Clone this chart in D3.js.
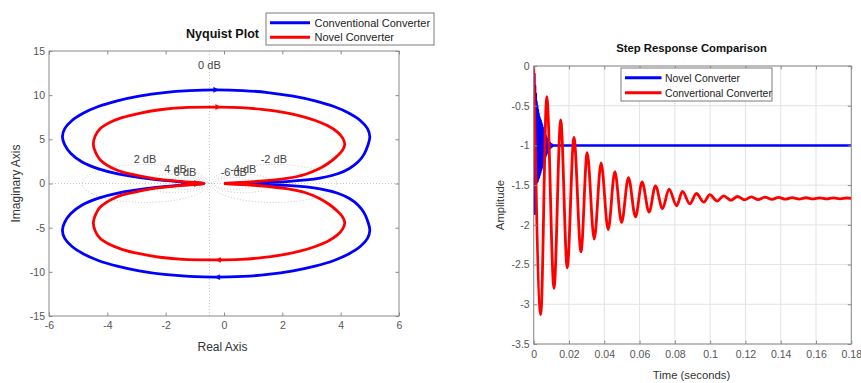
<!DOCTYPE html>
<html><head><meta charset="utf-8">
<script src="https://cdn.jsdelivr.net/npm/d3@7"></script>
<style>
body{margin:0;background:#fff;}
text{font-family:"Liberation Sans",Arial,Helvetica,sans-serif;}
</style></head>
<body><svg id="chart" width="861" height="383" xmlns="http://www.w3.org/2000/svg"></svg>
<script>
// ---------------- DATA ----------------
const nyqXTicks = [-6, -4, -2, 0, 2, 4, 6];
const nyqYTicks = [-15, -10, -5, 0, 5, 10, 15];
const mCircleDb = [2, 4, 6, -2, -4, -6];
const nyqLegend = ["Conventional Converter", "Novel Converter"];
// Upper half (positive frequencies) [Re, Im]; lower half is the complex conjugate
const conventionalNyqUpper = [
  [0.0, 0.0], [0.8, 0.08], [2.15, 0.22], [3.29, 0.6], [3.9, 1.1], [4.3, 1.7],
  [4.6, 2.45], [4.8, 3.3], [4.93, 4.3], [5.0, 5.3], [4.92, 6.22], [4.68, 7.11],
  [4.29, 7.95], [3.77, 8.71], [3.12, 9.36], [2.37, 9.89], [1.5, 10.3],
  [0.65, 10.52], [-0.27, 10.6], [-1.19, 10.52], [-2.05, 10.3], [-2.91, 9.89],
  [-3.66, 9.36], [-4.31, 8.71], [-4.83, 7.95], [-5.22, 7.11], [-5.46, 6.22],
  [-5.54, 5.3], [-5.46, 4.38], [-5.25, 3.4], [-4.85, 2.4], [-4.3, 1.65],
  [-3.6, 1.05], [-2.54, 0.52], [-1.4, 0.16], [-0.69, 0.0]
];
const novelNyqUpper = [
  [0.0, 0.0], [1.0, 0.2], [2.15, 0.58], [2.8, 1.05], [3.29, 1.72], [3.6, 2.35],
  [3.86, 3.04], [4.05, 3.7], [4.14, 4.4], [4.07, 5.14], [3.88, 5.85],
  [3.56, 6.53], [3.13, 7.13], [2.6, 7.66], [1.99, 8.08], [1.3, 8.39],
  [0.58, 8.59], [-0.17, 8.65], [-1.4, 8.6], [-2.2, 8.35], [-2.9, 7.95],
  [-3.5, 7.45], [-3.95, 6.85], [-4.25, 6.2], [-4.42, 5.35], [-4.48, 4.4],
  [-4.4, 3.5], [-4.25, 2.7], [-3.7, 1.55], [-3.1, 1.0], [-2.4, 0.55],
  [-1.4, 0.2], [-0.69, 0.0]
];
// direction markers [Re, Im, direction(+1 right / -1 left)]
const conventionalArrows = [[-0.27, 10.6, 1], [-0.23, -10.6, -1]];
const novelArrows = [[-0.2, 8.65, 1], [-0.2, -8.65, -1]];
const criticalPoint = [-1, 0];

const stepXTicks = [0, 0.02, 0.04, 0.06, 0.08, 0.1, 0.12, 0.14, 0.16, 0.18];
const stepYTicks = [0, -0.5, -1, -1.5, -2, -2.5, -3, -3.5];
const stepLegend = ["Novel Converter", "Convertional Converter"];
const novelSteady = -1;
const conventionalSteady = -1.667;
// [time (s), amplitude]
const novelStep = [
  [0, 0], [0.0002, -1.85], [0.0004, -0.1], [0.0006, -1.86], [0.0008, -0.25],
  [0.0010, -1.48], [0.0012, -0.35], [0.0014, -1.48], [0.0016, -0.45],
  [0.0018, -1.46], [0.0020, -0.5], [0.0022, -1.45], [0.0024, -0.55],
  [0.0026, -1.42], [0.0028, -0.6], [0.0030, -1.40], [0.0032, -0.64],
  [0.0034, -1.37], [0.0036, -0.67], [0.0038, -1.34], [0.0040, -0.69],
  [0.0042, -1.31], [0.0044, -0.72], [0.0046, -1.28], [0.0048, -0.75],
  [0.0050, -1.25], [0.0052, -0.78], [0.0054, -1.22], [0.0056, -0.81],
  [0.0058, -1.19], [0.0060, -0.84], [0.0062, -1.16], [0.0064, -0.86],
  [0.0066, -1.14], [0.0068, -0.88], [0.0070, -1.12], [0.0072, -0.9],
  [0.0074, -1.1], [0.0076, -0.92], [0.0078, -1.08], [0.0080, -0.94],
  [0.0082, -1.06], [0.0084, -0.95], [0.0086, -1.05], [0.0088, -0.96],
  [0.0090, -1.04], [0.0092, -0.97], [0.0094, -1.03], [0.0096, -0.98],
  [0.0098, -1.02], [0.0100, -0.985], [0.0102, -1.015], [0.0104, -0.99],
  [0.0106, -1.01], [0.0108, -0.995], [0.0110, -1.005], [0.0112, -1.0],
  [0.18, -1.0]
];
const conventionalStep = [
  [0, 0], [0.0040, -3.13], [0.0074, -0.385], [0.0115, -2.80], [0.0153, -0.68],
  [0.0190, -2.54], [0.0228, -0.90], [0.0268, -2.34], [0.0303, -1.09],
  [0.0343, -2.18], [0.0382, -1.22], [0.0422, -2.06], [0.0460, -1.33],
  [0.0498, -1.97], [0.0537, -1.405], [0.0577, -1.90], [0.0614, -1.46],
  [0.0654, -1.84], [0.0690, -1.51], [0.0730, -1.795], [0.0767, -1.55],
  [0.0810, -1.76], [0.0843, -1.58], [0.0885, -1.735], [0.0922, -1.605],
  [0.0964, -1.715], [0.0998, -1.62], [0.1040, -1.70], [0.1077, -1.635],
  [0.1117, -1.69], [0.1155, -1.643], [0.1195, -1.685], [0.1233, -1.648],
  [0.1272, -1.682], [0.1310, -1.652], [0.1350, -1.679], [0.1388, -1.655],
  [0.1427, -1.677], [0.1465, -1.657], [0.1505, -1.675], [0.1543, -1.659],
  [0.1582, -1.674], [0.1620, -1.660], [0.1660, -1.673], [0.1698, -1.661],
  [0.1737, -1.672], [0.1775, -1.662], [0.18, -1.668]
];

// ---------------- DRAW ----------------
const svg = d3.select("#chart");
const BLUE = "#0000ff", RED = "#ff0000";
const BOX = "#8a8a8a", TICKTXT = "#555", LABEL = "#333";
const TICK = 3.5;

function styleAxis(g, fs) {
  g.select(".domain").remove();
  g.selectAll(".tick line").attr("stroke", BOX);
  g.selectAll(".tick text").attr("fill", TICKTXT).attr("font-size", fs);
}
function applyAttrs(sel, a) { for (const k in a) sel.attr(k, a[k]); return sel; }

// ===== Nyquist =====
const nL = 49, nR = 399, nT = 51, nB = 316;
const nx = d3.scaleLinear().domain([-6, 6]).range([nL, nR]);
const ny = d3.scaleLinear().domain([-15, 15]).range([nB, nT]);

svg.append("clipPath").attr("id", "clipN").append("rect")
  .attr("x", nL).attr("y", nT).attr("width", nR - nL).attr("height", nB - nT);

const gN = svg.append("g");
const grid = gN.append("g").attr("clip-path", "url(#clipN)");
const dotted = { stroke: "#b8b8b8", "stroke-width": 0.8, "stroke-dasharray": "1,2", fill: "none" };

applyAttrs(grid.append("line").attr("x1", nL).attr("x2", nR).attr("y1", ny(0)).attr("y2", ny(0)), dotted);
applyAttrs(grid.append("line").attr("x1", nx(-0.5)).attr("x2", nx(-0.5)).attr("y1", nT).attr("y2", nB), dotted);

const mCircles = mCircleDb.map(db => {
  const M = Math.pow(10, db / 20), M2 = M * M;
  return { db, c: -M2 / (M2 - 1), r: Math.abs(M / (M2 - 1)) };
});
mCircles.forEach(m => {
  applyAttrs(grid.append("ellipse")
    .attr("cx", nx(m.c)).attr("cy", ny(0))
    .attr("rx", nx(m.c + m.r) - nx(m.c)).attr("ry", ny(0) - ny(m.r)), dotted);
});
const lblN = gN.append("g").attr("font-size", 11).attr("fill", "#444").attr("text-anchor", "middle");
mCircles.forEach(m => {
  lblN.append("text").attr("x", nx(m.c)).attr("y", ny(m.r) - 1.5).text(m.db + " dB");
});
lblN.append("text").attr("x", nx(-0.5)).attr("y", ny(13.0)).text("0 dB");

// curves
const nyqLine = d3.line().x(d => nx(d[0])).y(d => ny(d[1])).curve(d3.curveCatmullRom.alpha(0.5));
function fullCurve(upper) {
  const lower = upper.slice().reverse().map(d => [d[0], -d[1]]);
  return upper.concat(lower.slice(1));
}
const curveG = gN.append("g").attr("clip-path", "url(#clipN)");
curveG.append("path").attr("d", nyqLine(fullCurve(conventionalNyqUpper)))
  .attr("fill", "none").attr("stroke", BLUE).attr("stroke-width", 2.8).attr("stroke-linejoin", "round");
curveG.append("path").attr("d", nyqLine(fullCurve(novelNyqUpper)))
  .attr("fill", "none").attr("stroke", RED).attr("stroke-width", 2.8).attr("stroke-linejoin", "round");
function arrows(list, color) {
  list.forEach(a => {
    const px = nx(a[0]), py = ny(a[1]), s = a[2];
    curveG.append("path")
      .attr("d", `M${px - 2.5 * s},${py - 2.5}L${px + 2.5 * s},${py}L${px - 2.5 * s},${py + 2.5}Z`)
      .attr("fill", color).attr("stroke", color).attr("stroke-width", 0.5);
  });
}
arrows(conventionalArrows, BLUE);
arrows(novelArrows, RED);
curveG.append("path")
  .attr("d", `M${nx(criticalPoint[0]) - 3.5},${ny(criticalPoint[1])}h7M${nx(criticalPoint[0])},${ny(criticalPoint[1]) - 3.5}v7`)
  .attr("stroke", RED).attr("stroke-width", 1);

// box & axes
gN.append("rect").attr("x", nL).attr("y", nT).attr("width", nR - nL).attr("height", nB - nT)
  .attr("fill", "none").attr("stroke", BOX).attr("stroke-width", 1);
const axNB = gN.append("g").attr("transform", `translate(0,${nB})`)
  .call(d3.axisBottom(nx).tickValues(nyqXTicks).tickSize(-TICK).tickPadding(6).tickFormat(d => String(d)));
styleAxis(axNB, 10.5);
const axNT = gN.append("g").attr("transform", `translate(0,${nT})`)
  .call(d3.axisTop(nx).tickValues(nyqXTicks).tickSize(-TICK).tickFormat(""));
styleAxis(axNT, 10.5);
const axNL = gN.append("g").attr("transform", `translate(${nL},0)`)
  .call(d3.axisLeft(ny).tickValues(nyqYTicks).tickSize(-TICK).tickPadding(4).tickFormat(d => String(d)));
styleAxis(axNL, 10.5);
const axNR = gN.append("g").attr("transform", `translate(${nR},0)`)
  .call(d3.axisRight(ny).tickValues(nyqYTicks).tickSize(-TICK).tickFormat(""));
styleAxis(axNR, 10.5);

gN.append("text").attr("x", 222.5).attr("y", 37.5).attr("text-anchor", "middle")
  .attr("font-size", 12.5).attr("font-weight", "bold").attr("fill", "#111").text("Nyquist Plot");
gN.append("text").attr("x", 222.5).attr("y", 351).attr("text-anchor", "middle")
  .attr("font-size", 12).attr("fill", LABEL).text("Real Axis");
gN.append("text").attr("transform", `translate(20,${(nT + nB) / 2}) rotate(-90)`)
  .attr("text-anchor", "middle").attr("font-size", 12).attr("fill", LABEL).text("Imaginary Axis");

// legend 1
const lg1 = svg.append("g");
lg1.append("rect").attr("x", 266).attr("y", 13).attr("width", 168).attr("height", 32)
  .attr("fill", "#fff").attr("stroke", "#7a7a7a").attr("stroke-width", 1);
[BLUE, RED].forEach((c, i) => {
  const yy = 22.7 + i * 14.6;
  lg1.append("line").attr("x1", 270).attr("x2", 310).attr("y1", yy).attr("y2", yy)
    .attr("stroke", c).attr("stroke-width", 3);
  lg1.append("text").attr("x", 314.5).attr("y", yy + 4).attr("font-size", 11)
    .attr("fill", "#222").text(nyqLegend[i]);
});

// ===== Step response =====
const sL = 533.7, sR = 851.3, sT = 66, sB = 344;
const sx = d3.scaleLinear().domain([0, 0.18]).range([sL, sR]);
const sy = d3.scaleLinear().domain([-3.5, 0]).range([sB, sT]);
svg.append("clipPath").attr("id", "clipS").append("rect")
  .attr("x", sL).attr("y", sT).attr("width", sR - sL).attr("height", sB - sT);
const gS = svg.append("g");
const gridS = gS.append("g");
stepXTicks.forEach(t => gridS.append("line").attr("x1", sx(t)).attr("x2", sx(t)).attr("y1", sT).attr("y2", sB)
  .attr("stroke", "#e3e3e3").attr("stroke-width", 1));
stepYTicks.forEach(v => gridS.append("line").attr("x1", sL).attr("x2", sR).attr("y1", sy(v)).attr("y2", sy(v))
  .attr("stroke", "#e3e3e3").attr("stroke-width", 1));
[novelSteady, conventionalSteady].forEach(v => applyAttrs(gridS.append("line")
  .attr("x1", sL).attr("x2", sR).attr("y1", sy(v)).attr("y2", sy(v)), { stroke: "#909090", "stroke-width": 0.8, "stroke-dasharray": "1,2" }));

const curveS = gS.append("g").attr("clip-path", "url(#clipS)");
curveS.append("path").attr("d", d3.line().x(d => sx(d[0])).y(d => sy(d[1]))(novelStep))
  .attr("fill", "none").attr("stroke", BLUE).attr("stroke-width", 2.4).attr("stroke-linejoin", "round");
curveS.append("path").attr("d", d3.line().x(d => sx(d[0])).y(d => sy(d[1])).curve(d3.curveMonotoneX)(conventionalStep))
  .attr("fill", "none").attr("stroke", RED).attr("stroke-width", 2.8);

gS.append("rect").attr("x", sL).attr("y", sT).attr("width", sR - sL).attr("height", sB - sT)
  .attr("fill", "none").attr("stroke", BOX).attr("stroke-width", 1);
const axSB = gS.append("g").attr("transform", `translate(0,${sB})`)
  .call(d3.axisBottom(sx).tickValues(stepXTicks).tickSize(-TICK).tickPadding(7).tickFormat(d => String(d)));
styleAxis(axSB, 10.5);
const axST = gS.append("g").attr("transform", `translate(0,${sT})`)
  .call(d3.axisTop(sx).tickValues(stepXTicks).tickSize(-TICK).tickFormat(""));
styleAxis(axST, 10.5);
const axSL = gS.append("g").attr("transform", `translate(${sL},0)`)
  .call(d3.axisLeft(sy).tickValues(stepYTicks).tickSize(-TICK).tickPadding(4).tickFormat(d => String(d)));
styleAxis(axSL, 10.5);
const axSR = gS.append("g").attr("transform", `translate(${sR},0)`)
  .call(d3.axisRight(sy).tickValues(stepYTicks).tickSize(-TICK).tickFormat(""));
styleAxis(axSR, 10.5);

gS.append("text").attr("x", 691.5).attr("y", 52).attr("text-anchor", "middle")
  .attr("font-size", 11.3).attr("font-weight", "bold").attr("fill", "#111").text("Step Response Comparison");
gS.append("text").attr("x", 691.5).attr("y", 378.5).attr("text-anchor", "middle")
  .attr("font-size", 11.3).attr("fill", LABEL).text("Time (seconds)");
gS.append("text").attr("transform", `translate(504,${(sT + sB) / 2}) rotate(-90)`)
  .attr("text-anchor", "middle").attr("font-size", 11.3).attr("fill", LABEL).text("Amplitude");

// legend 2
const lg2 = svg.append("g");
lg2.append("rect").attr("x", 621).attr("y", 68).attr("width", 151).attr("height", 33)
  .attr("fill", "#fff").attr("stroke", "#7a7a7a").attr("stroke-width", 1);
[BLUE, RED].forEach((c, i) => {
  const yy = 77.7 + i * 15;
  lg2.append("line").attr("x1", 625).attr("x2", 661.5).attr("y1", yy).attr("y2", yy)
    .attr("stroke", c).attr("stroke-width", 3);
  lg2.append("text").attr("x", 665).attr("y", yy + 3.8).attr("font-size", 10.4)
    .attr("fill", "#222").text(stepLegend[i]);
});
</script>
</body></html>
